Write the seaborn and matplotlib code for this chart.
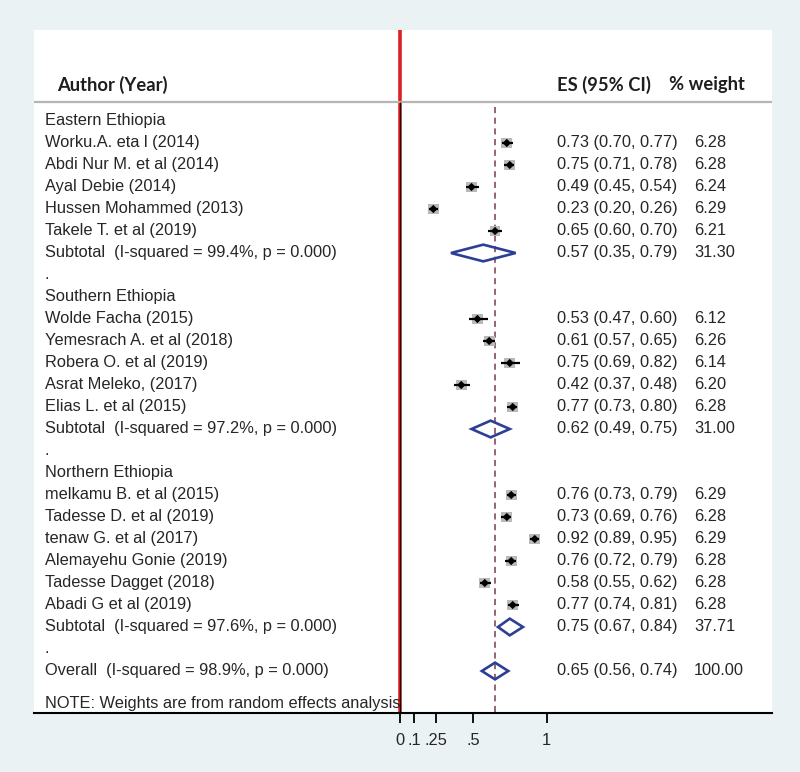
import numpy as np
import pandas as pd
import matplotlib
matplotlib.use("Agg")
import matplotlib.pyplot as plt
import seaborn as sns
from matplotlib.patches import Polygon

# Study level data
groups = ["Eastern Ethiopia", "Southern Ethiopia", "Northern Ethiopia"]
study_group = [0, 0, 0, 0, 0,
               1, 1, 1, 1, 1,
               2, 2, 2, 2, 2, 2]
study_labels = [
    "Worku.A. eta l (2014)", "Abdi Nur M. et al (2014)", "Ayal Debie (2014)",
    "Hussen Mohammed (2013)", "Takele T. et al (2019)",
    "Wolde Facha (2015)", "Yemesrach A. et al (2018)", "Robera O. et al (2019)",
    "Asrat Meleko, (2017)", "Elias L. et al (2015)",
    "melkamu B. et al (2015)", "Tadesse D. et al (2019)", "tenaw G. et al (2017)",
    "Alemayehu Gonie (2019)", "Tadesse Dagget (2018)", "Abadi G et al (2019)",
]
study_es = [0.73, 0.75, 0.49, 0.23, 0.65,
            0.53, 0.61, 0.75, 0.42, 0.77,
            0.76, 0.73, 0.92, 0.76, 0.58, 0.77]
study_lo = [0.70, 0.71, 0.45, 0.20, 0.60,
            0.47, 0.57, 0.69, 0.37, 0.73,
            0.73, 0.69, 0.89, 0.72, 0.55, 0.74]
study_hi = [0.77, 0.78, 0.54, 0.26, 0.70,
            0.60, 0.65, 0.82, 0.48, 0.80,
            0.79, 0.76, 0.95, 0.79, 0.62, 0.81]
study_weight = [6.28, 6.28, 6.24, 6.29, 6.21,
                6.12, 6.26, 6.14, 6.20, 6.28,
                6.29, 6.28, 6.29, 6.28, 6.28, 6.28]

# Pooled estimates
subtotal_es = [0.57, 0.62, 0.75]
subtotal_lo = [0.35, 0.49, 0.67]
subtotal_hi = [0.79, 0.75, 0.84]
subtotal_weight = [31.30, 31.00, 37.71]
subtotal_i2 = [99.4, 97.2, 97.6]

overall_es = 0.65
overall_lo = 0.56
overall_hi = 0.74
overall_weight = 100.00
overall_i2 = 98.9

xticks = [0, 0.1, 0.25, 0.5, 1]
xtick_labels = ["0", ".1", ".25", ".5", "1"]

BG = "#eaf2f3"
TXT = "#262626"
DIAMOND = "#2c3f94"
DASH = "#7a3b4d"
ROW_FONT = ["Liberation Sans", "DejaVu Sans"]
HEAD_FONT = ["Lato", "DejaVu Sans"]

# lay out the rows top to bottom
rows = []  # (row, kind, idx)
r = 1
for g in range(len(groups)):
    rows.append((r, "group", g)); r += 1
    for i, sg in enumerate(study_group):
        if sg == g:
            rows.append((r, "study", i)); r += 1
    rows.append((r, "subtotal", g)); r += 1
    rows.append((r, "dot", g)); r += 1
rows.append((r, "overall", 0))
overall_row = r
note_row = r + 1.5

study_rows = {idx: rr for rr, kind, idx in rows if kind == "study"}
df = pd.DataFrame({
    "label": study_labels,
    "es": study_es,
    "lo": study_lo,
    "hi": study_hi,
    "weight": study_weight,
})
df["row"] = [study_rows[i] for i in range(len(df))]

sns.set_style("white")
plt.rcParams["font.family"] = ROW_FONT

fig = plt.figure(figsize=(8, 7.72), dpi=100, facecolor=BG)
ax = fig.add_axes([34 / 800, 59 / 772, 738 / 800, 683 / 772])
ax.set_facecolor("white")

px_per_unit = 147.0
ax.set_xlim((34 - 399.5) / px_per_unit, (772 - 399.5) / px_per_unit)
ax.set_ylim(1 + (713 - 121) / 22.0, 1 + (30 - 121) / 22.0)

header_line = 1 + (102 - 121) / 22.0
header_y = 1 + (85 - 121) / 22.0

# null line (red over black)
ax.axvline(0, color="#e02020", lw=2.6, zorder=1)
ax.vlines(0, header_line, ax.get_ylim()[0], color="black", lw=0.9, zorder=2)

# header
ax.axhline(header_line, color="#b5b5b5", lw=1.6, zorder=1)
ax.text(-2.33, header_y, "Author (Year)", family=HEAD_FONT, fontsize=13.2,
        fontweight="bold", color="#1e1e1e", va="center")
ax.text(1.07, header_y, "ES (95% CI)", family=HEAD_FONT, fontsize=13.2,
        fontweight="bold", color="#1e1e1e", va="center")
ax.text(1.835, header_y, "% weight", family=HEAD_FONT, fontsize=13.2,
        fontweight="bold", color="#1e1e1e", va="center")

# overall effect dashed line
ax.vlines(overall_es, 1 + (107 - 121) / 22.0, ax.get_ylim()[0], color=DASH,
          lw=1.1, linestyles=(0, (4, 3)), zorder=2)

# study CIs and markers
ax.hlines(df["row"], df["lo"], df["hi"], color="black", lw=1.6, zorder=4)
sns.scatterplot(data=df, x="es", y="row", marker="s", s=df["weight"] * 9.5,
                color="#b9b9b9", edgecolor="none", ax=ax, zorder=3, legend=False)
sns.scatterplot(data=df, x="es", y="row", marker="D", s=18, color="black",
                edgecolor="none", ax=ax, zorder=5, legend=False)

def diamond(row, es, lo, hi, h=0.38):
    pts = [(lo, row), (es, row - h), (hi, row), (es, row + h)]
    ax.add_patch(Polygon(pts, closed=True, fill=False, edgecolor=DIAMOND,
                         lw=1.9, zorder=6))

lx = -2.412
ex = 1.071
wx = 2.003
fs = 11.8
VA = "center_baseline"
dy = -0.09  # nudge text up so it lines up with the markers
for rr, kind, idx in rows:
    ty = rr + dy
    if kind == "group":
        ax.text(lx, ty, groups[idx], fontsize=fs, color=TXT, va=VA)
    elif kind == "study":
        ax.text(lx, ty, study_labels[idx], fontsize=fs, color=TXT, va=VA)
        ax.text(ex, ty, f"{study_es[idx]:.2f} ({study_lo[idx]:.2f}, {study_hi[idx]:.2f})",
                fontsize=fs, color=TXT, va=VA)
        ax.text(wx, ty, f"{study_weight[idx]:.2f}", fontsize=fs, color=TXT, va=VA)
    elif kind == "subtotal":
        ax.text(lx, ty, f"Subtotal  (I-squared = {subtotal_i2[idx]:.1f}%, p = 0.000)",
                fontsize=fs, color=TXT, va=VA)
        ax.text(ex, ty, f"{subtotal_es[idx]:.2f} ({subtotal_lo[idx]:.2f}, {subtotal_hi[idx]:.2f})",
                fontsize=fs, color=TXT, va=VA)
        ax.text(wx, ty, f"{subtotal_weight[idx]:.2f}", fontsize=fs, color=TXT, va=VA)
        diamond(rr, subtotal_es[idx], subtotal_lo[idx], subtotal_hi[idx])
    elif kind == "dot":
        ax.text(lx, ty, ".", fontsize=fs, color=TXT, va=VA)
    elif kind == "overall":
        ax.text(lx, ty, f"Overall  (I-squared = {overall_i2:.1f}%, p = 0.000)",
                fontsize=fs, color=TXT, va=VA)
        ax.text(ex, ty, f"{overall_es:.2f} ({overall_lo:.2f}, {overall_hi:.2f})",
                fontsize=fs, color=TXT, va=VA)
        ax.text(wx, ty, f"{overall_weight:.2f}", fontsize=fs, color=TXT, va=VA)
        diamond(rr, overall_es, overall_lo, overall_hi)

ax.text(lx, note_row + dy, "NOTE: Weights are from random effects analysis",
        fontsize=fs, color=TXT, va=VA)

# axis
ax.set_xticks(xticks)
ax.set_xticklabels(xtick_labels, fontsize=fs, color=TXT)
ax.set_yticks([])
ax.set_xlabel("")
ax.set_ylabel("")
for side in ["top", "left", "right"]:
    ax.spines[side].set_visible(False)
ax.spines["bottom"].set_color("black")
ax.spines["bottom"].set_linewidth(1.5)
ax.tick_params(axis="x", direction="out", length=7.5, width=1.3, color="black", pad=7,
               bottom=True)

fig.savefig("out.png", dpi=100, facecolor=BG)
